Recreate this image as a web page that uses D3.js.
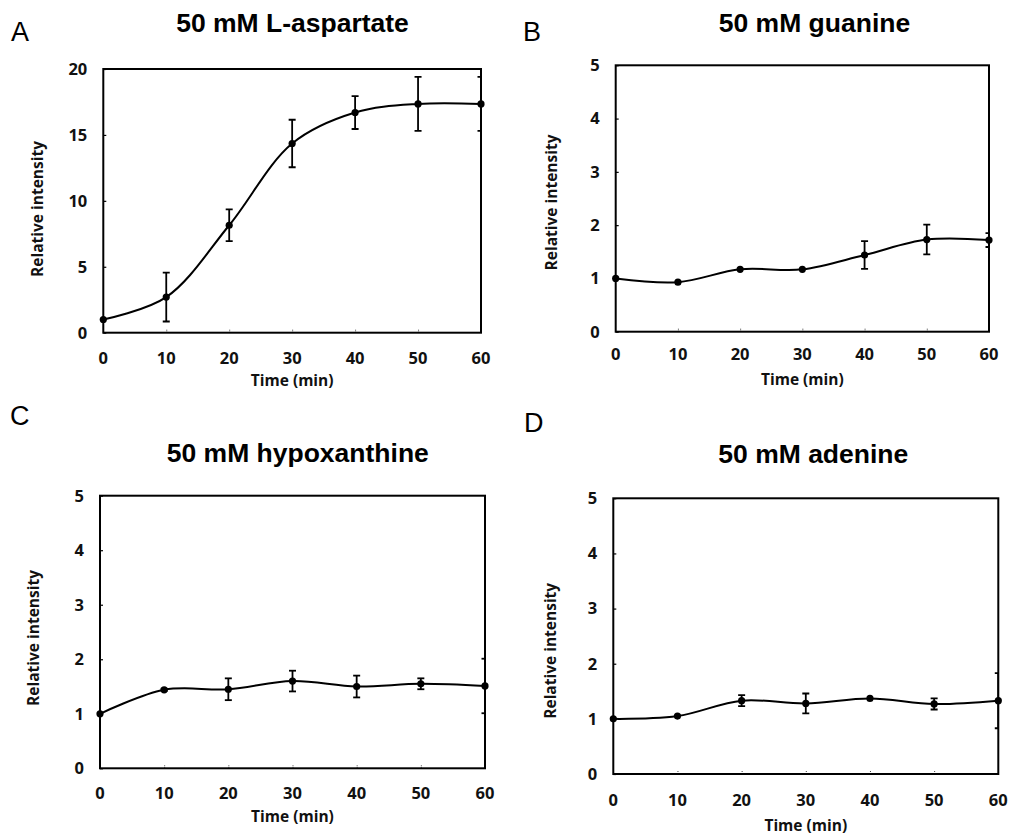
<!DOCTYPE html>
<html><head><meta charset="utf-8">
<script src="https://cdn.jsdelivr.net/npm/d3@7"></script>
<style>body{margin:0;background:#fff}svg{display:block}</style>
</head><body>
<svg id="chart" width="1011" height="836"></svg>
<script>
const times = [0, 10, 20, 30, 40, 50, 60];
const xTicks = [0, 10, 20, 30, 40, 50, 60];
const yTicksA = [0, 5, 10, 15, 20];
const yTicksSmall = [0, 1, 2, 3, 4, 5];

const aspartateMean = [1.0, 2.7, 8.15, 14.35, 16.7, 17.35, 17.35];
const aspartateErr  = [0, 1.85, 1.2, 1.8, 1.25, 2.05, 2.05];
const guanineMean = [1.0, 0.93, 1.17, 1.17, 1.44, 1.73, 1.72];
const guanineErr  = [0, 0, 0, 0, 0.26, 0.28, 0.13];
const hypoxanthineMean = [1.0, 1.44, 1.45, 1.6, 1.5, 1.55, 1.51];
const hypoxanthineErr  = [0, 0.02, 0.2, 0.19, 0.2, 0.1, 0.5];
const adenineMean = [1.0, 1.05, 1.33, 1.28, 1.37, 1.27, 1.33];
const adenineErr  = [0, 0, 0.1, 0.18, 0, 0.1, 0.5];

const titles = ["50 mM L-aspartate", "50 mM guanine", "50 mM hypoxanthine", "50 mM adenine"];
const letters = ["A", "B", "C", "D"];
const xTitle = "Time (min)";
const yTitle = "Relative intensity";

const panels = [
  {mean: aspartateMean, err: aspartateErr, yMax: 20, yTicks: yTicksA,
   l: 103.3, r: 481, t: 69, b: 332.7, letterX: 11, letterY: 41, titleX: 292.5, titleY: 32,
   xlab: 25, xtit: 47.3, ytitX: -66, ytitY: 209},
  {mean: guanineMean, err: guanineErr, yMax: 5, yTicks: yTicksSmall,
   l: 615.7, r: 989, t: 65.3, b: 331.7, letterX: 523, letterY: 41, titleX: 814.5, titleY: 32,
   xlab: 22.6, xtit: 47.3, ytitX: -64, ytitY: 202.5},
  {mean: hypoxanthineMean, err: hypoxanthineErr, yMax: 5, yTicks: yTicksSmall,
   l: 100, r: 485, t: 495.7, b: 768.3, letterX: 10, letterY: 425, titleX: 297.8, titleY: 462.3,
   xlab: 25, xtit: 48.4, ytitX: -66.7, ytitY: 638},
  {mean: adenineMean, err: adenineErr, yMax: 5, yTicks: yTicksSmall,
   l: 613.3, r: 998.3, t: 498.3, b: 774, letterX: 524, letterY: 432, titleX: 813.3, titleY: 463.3,
   xlab: 26, xtit: 51, ytitX: -63.3, ytitY: 650.8}
];

const svg = d3.select("#chart");
const tickFont = "'Open Sans', sans-serif";

panels.forEach((p, i) => {
  const x = d3.scaleLinear().domain([0, 60]).range([p.l, p.r]);
  const y = d3.scaleLinear().domain([0, p.yMax]).range([p.b, p.t]);
  const g = svg.append("g");

  g.append("text").attr("x", p.letterX).attr("y", p.letterY)
    .attr("font-family", "'Liberation Sans', Arial, sans-serif").attr("font-size", 27)
    .text(letters[i]);
  g.append("text").attr("x", p.titleX).attr("y", p.titleY).attr("text-anchor", "middle")
    .attr("font-family", "'Liberation Sans', Arial, sans-serif").attr("font-weight", "bold")
    .attr("font-size", 26.5).text(titles[i]);

  const cid = "clip" + i;
  svg.append("clipPath").attr("id", cid).append("rect")
    .attr("x", p.l).attr("y", p.t).attr("width", p.r - p.l).attr("height", p.b - p.t);

  const yAxis = d3.axisRight(y).tickValues(p.yTicks).tickSize(3).tickFormat("");
  g.append("g").attr("transform", `translate(${p.l},0)`).call(yAxis)
    .call(s => s.select(".domain").remove())
    .selectAll("line").attr("stroke", "#000").attr("stroke-width", 1.2);
  g.selectAll(".ylab").data(p.yTicks).join("text")
    .attr("x", p.l - 16).attr("y", d => y(d) + 5.8).attr("text-anchor", "end")
    .attr("font-family", tickFont).attr("font-weight", "bold").attr("font-size", 16.5)
    .attr("fill", "#111").text(d => d);

  const xAxis = d3.axisTop(x).tickValues(xTicks.slice(1, -1)).tickSize(4).tickFormat("");
  g.append("g").attr("transform", `translate(0,${p.b})`).call(xAxis)
    .call(s => s.select(".domain").remove())
    .selectAll("line").attr("stroke", "#444").attr("stroke-width", 1).attr("stroke-dasharray", "1,1");
  g.selectAll(".xlab").data(xTicks).join("text")
    .attr("x", d => x(d)).attr("y", p.b + p.xlab + 5.8).attr("text-anchor", "middle")
    .attr("font-family", tickFont).attr("font-weight", "bold").attr("font-size", 16.5)
    .attr("fill", "#111").text(d => d);

  g.append("text").attr("x", (p.l + p.r) / 2).attr("y", p.b + p.xtit + 5.5)
    .attr("text-anchor", "middle").attr("font-family", tickFont).attr("font-weight", "bold")
    .attr("font-size", 15.5).attr("fill", "#111").text(xTitle);
  g.append("text").attr("transform", `translate(${p.l + p.ytitX + 5.5},${p.ytitY}) rotate(-90)`)
    .attr("text-anchor", "middle").attr("font-family", tickFont).attr("font-weight", "bold")
    .attr("font-size", 15.5).attr("fill", "#111").text(yTitle);

  const pts = times.map((t, j) => ({t, m: p.mean[j], e: p.err[j]}));
  const plot = g.append("g").attr("clip-path", `url(#${cid})`);

  const eb = plot.selectAll(".eb").data(pts.filter(d => d.e > 0)).join("g");
  eb.append("line").attr("x1", d => x(d.t)).attr("x2", d => x(d.t))
    .attr("y1", d => y(d.m - d.e)).attr("y2", d => y(d.m + d.e))
    .attr("stroke", "#000").attr("stroke-width", 1.8);
  [-1, 1].forEach(s => {
    eb.append("line").attr("x1", d => x(d.t) - 3.5).attr("x2", d => x(d.t) + 3.5)
      .attr("y1", d => y(d.m + s * d.e)).attr("y2", d => y(d.m + s * d.e))
      .attr("stroke", "#000").attr("stroke-width", 1.8);
  });

  const line = d3.line().x(d => x(d.t)).y(d => y(d.m)).curve(d3.curveCatmullRom.alpha(0.5));
  g.append("path").datum(pts).attr("d", line).attr("fill", "none")
    .attr("stroke", "#000").attr("stroke-width", 2);

  g.append("rect").attr("x", p.l).attr("y", p.t).attr("width", p.r - p.l).attr("height", p.b - p.t)
    .attr("fill", "none").attr("stroke", "#000").attr("stroke-width", 2);

  g.selectAll(".pt").data(pts).join("circle")
    .attr("cx", d => x(d.t)).attr("cy", d => y(d.m)).attr("r", 3.6).attr("fill", "#000");
});
</script>
</body></html>
